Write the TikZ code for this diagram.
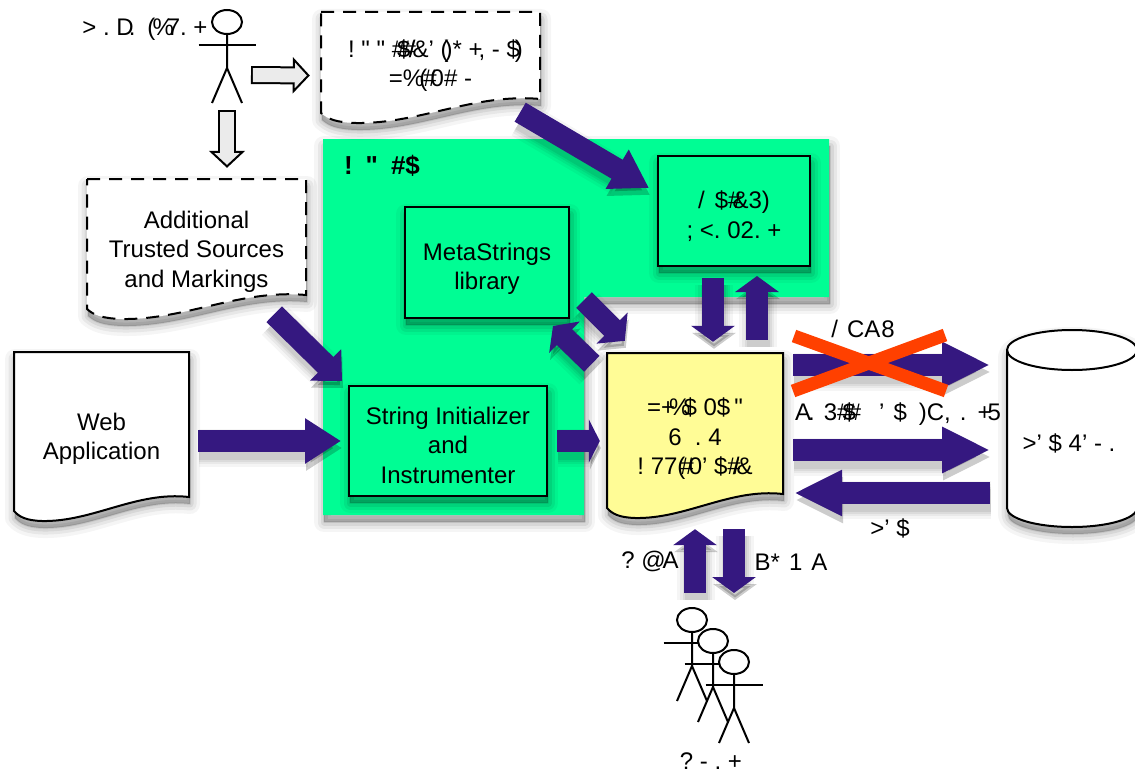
\documentclass[tikz,border=0pt]{standalone}
\usepackage{fontspec}
\setmainfont{Liberation Sans}[Ligatures=TeXOff]
\usetikzlibrary{arrows.meta,calc,shapes.geometric}
\definecolor{seagreen}{RGB}{0,253,148}
\definecolor{flowblue}{RGB}{53,24,128}
\definecolor{noteyellow}{RGB}{255,252,150}
\definecolor{crossred}{RGB}{255,64,0}
\definecolor{hollowgrey}{RGB}{235,235,235}
\newcommand{\bk}[1]{\kern-#1pt\relax}
\newcommand{\dn}[1]{\rule{0pt}{#1pt}}
\tikzset{
  softshade/.style={
    preaction={fill=black,draw=black,opacity=.04,line width=20pt,line join=round,solid,transform canvas={shift={(1pt,-7pt)}}},
    preaction={fill=black,draw=black,opacity=.06,line width=13pt,line join=round,solid,transform canvas={shift={(1pt,-7pt)}}},
    preaction={fill=black,draw=black,opacity=.07,line width=7pt,line join=round,solid,transform canvas={shift={(1pt,-7pt)}}},
    preaction={fill=black,draw=black,opacity=.08,line width=2pt,line join=round,solid,transform canvas={shift={(1pt,-7pt)}}}},
  flowshade/.style={
    preaction={draw=black,opacity=.04,line width=38pt,transform canvas={shift={(1pt,-7pt)}}},
    preaction={draw=black,opacity=.05,line width=32pt,transform canvas={shift={(1pt,-7pt)}}},
    preaction={draw=black,opacity=.06,line width=27pt,transform canvas={shift={(1pt,-7pt)}}},
    preaction={draw=black,opacity=.07,line width=23pt,transform canvas={shift={(1pt,-7pt)}}}},
  flow/.style={flowshade,line width=22pt,draw=flowblue,-{Triangle[width=43pt,length=#1]}},
  flow/.default=36pt,
  hollow/.style={line width=18pt,draw=black,
    -{Triangle[width=36pt,length=17pt,fill=hollowgrey,line width=2pt]},
    postaction={draw=hollowgrey,line width=14pt,-{},shorten >=15pt,shorten <=1.9pt}},
  txt/.style={font=\fontsize{24}{29.5}\selectfont,align=center,inner sep=0pt,execute at begin node={\rule{0pt}{22pt}}},
  stage/.style={softshade,draw=black,line width=2pt,fill=seagreen,txt},
  dashedit/.style={dash pattern=on 13pt off 9pt},
  headshape/.style={ellipse,draw=black,line width=2pt,fill=white,minimum width=30pt,minimum height=24pt,inner sep=0pt},
  limb/.style={draw=black,line width=2pt}
}
% page with the wavy lower edge, then its text node on top
\newcommand{\docnode}[7]{%
  \draw[softshade,draw=black,line width=2pt,#1] (#3,#4) -- (#5,#4) -- (#5,#6)
    .. controls ({#5-.3*(#5-#3)},{#6-6}) and ({#5-.55*(#5-#3)},{#6+25}) .. ({#3+.16*(#5-#3)},{#6+24})
    .. controls ({#3+.07*(#5-#3)},{#6+23.5}) and ({#3+.03*(#5-#3)},{#6+20}) .. (#3,{#6+14}) -- cycle;
  \node[txt,minimum width={(#5-#3)*1pt},minimum height={(#6+20-#4)*1pt}] (#2) at ({(#3+#5)/2},{(#4+#6+20)/2}) {#7};
}
\newcommand{\stickman}[3]{%
  \draw[limb] (#2,#3) -- ++(0,46) -- ++(-15,35);
  \draw[limb] (#2,{#3+46}) -- ++(15,35);
  \draw[limb] ({#2-28.5},{#3+23}) -- ++(57,0);
  \node[headshape] (#1) at (#2,#3) {};
}

\begin{document}
\begin{tikzpicture}[x=1pt,y=-1pt]
\useasboundingbox (0,0) rectangle (1135,776);
% green area
\fill[softshade,fill=seagreen] (323,139) -- (829,139) -- (829,297) -- (584,297) -- (584,515) -- (323,515) -- cycle;
\node[font=\fontsize{26}{29}\selectfont\bfseries,inner sep=0pt] (area) at (382,166) {!\kern13pt"\kern13pt\#\$};
% boxes on it
\node[stage,minimum width=164pt,minimum height=111pt] (metalib) at (487,262.5) {\dn{30}MetaStrings\\library};
\node[stage,minimum width=152pt,minimum height=110pt] (plugin) at (734,211) {\dn{28}/\kern10pt\$\#\bk{9}\&3)\\;\ <.\ 02.\ +};
\node[stage,minimum width=198pt,minimum height=110pt] (init) at (448,441) {\dn{26}String Initializer\\and\\Instrumenter};
% pages
\docnode{fill=white,dashedit}{topdoc}{321}{12}{540}{99}{\kern10pt!\ "\ "\ \#\bk{8}\$\bk{8}\#\bk{7}/\bk{3}\&’\ (\bk{4})*\ +\bk{4},\ -\ \$\bk{5})\\=\%\bk{5}(\bk{4}\#\bk{6}0\#\ -}
\docnode{fill=white,dashedit}{addsrc}{87}{179}{306}{295}{\dn{26}Additional\\Trusted Sources\\and Markings}
\docnode{fill=white}{webapp}{14}{352}{189}{497}{\dn{26}Web\\Application}
\docnode{fill=noteyellow}{sheet}{607}{353}{783}{494}{\dn{28}=+\bk{6}\%\bk{7}\$\ 0\$\kern4pt"\\6\ \ .\ 4\\!\ 77(\bk{5}\#\bk{5}0’\ \$\#\bk{8}/\bk{3}\&}
% database
\draw[softshade,draw=black,line width=2pt,fill=white] (1007,350) -- (1007,508) arc[start angle=180,end angle=360,x radius=65,y radius=-19] -- (1137,350) arc[start angle=0,end angle=180,x radius=65,y radius=-20] -- cycle;
\draw[draw=black,line width=2pt] (1007,350) arc[start angle=180,end angle=360,x radius=65,y radius=-20];
\node[txt] (db) at (1069,441) {>’\ \$\ 4’\ -\ .};
\coordinate (dbport) at (990,0);
% people
\stickman{admin}{227}{22}
\stickman{userA}{692}{620}
\stickman{userB}{713}{641}
\stickman{userC}{734}{662}
\node[txt] (adminlabel) at (145,27) {>\ .\ D\bk{5}.\kern12pt(\bk{3}\%\bk{7}7.\ +};
\node[txt] (userlabel) at (711,758) {?\ -\ .\ +};
% connectors
\draw[hollow] ([shift={(24,53)}]admin.center) -- ([shift={(-11,10)}]topdoc.west);
\draw[hollow] ([shift={(0,88)}]admin.center) -- ([shift={(30.5,-11)}]addsrc.north);
\draw[flow=37pt] ([shift={(-20,-7)}]topdoc.south east) -- ([shift={(-8,-23)}]plugin.west);
\draw[flow=23pt] ([shift={(-32,-1)}]addsrc.south east) -- ([shift={(-6,-4)}]init.north west);
\draw[flow=36pt] ([xshift=9pt]webapp.east |- init.west) -- ([xshift=-7pt]init.west);
\draw[flow=11pt] ([xshift=9pt]init.east) -- ([xshift=-7pt]init.east -| sheet.west);
\draw[flow=18pt] ([shift={(14,-19)}]metalib.south east) -- ([shift={(18,-12)}]sheet.north west);
\draw[flow=16pt] ([shift={(-15,11)}]sheet.north west) -- ([shift={(-17,7)}]metalib.south east);
\draw[flow=16pt] ([xshift=-21pt,yshift=-11pt]plugin.south) -- ([xshift=-21pt,yshift=11pt]plugin.south |- sheet.north);
\draw[flow=16pt] ([shift={(23,-13)}]plugin.south |- sheet.north) -- ([xshift=23pt,yshift=-9pt]plugin.south);
\draw[flow=48pt] ([xshift=10pt]sheet.east |- 0,365) -- (dbport |- 0,365);
\draw[flow=48pt] ([xshift=10pt]sheet.east |- 0,450) -- (dbport |- 0,450);
\draw[flow=48pt] (dbport |- 0,493) -- ([xshift=11pt]sheet.east |- 0,493);
\draw[flow=16pt] ([shift={(3,-14)}]userA.north) -- ([shift={(0,15)}]sheet.south);
\draw[flow=16pt] ([shift={(39,15)}]sheet.south) -- ([shift={(42,-14)}]userA.north);
\draw[line width=13pt,draw=crossred] (794,336) -- (946,391);
\draw[line width=13pt,draw=crossred] (793,391) -- (945,335);
\node[txt] (droplabel) at (863,327) {/\kern9pt C\kern0ptA\kern1pt 8};
\node[txt] (querylabel) at (898,412) {A\bk{3}.\kern9pt 3\#\bk{8}\$\bk{8}\#\kern18pt’\kern9pt\$\kern12pt)C,\kern9pt.\kern11pt+\bk{4}5};
\node[txt] (datalabel) at (890,526) {>’\ \$};
\node[txt] (inputlabel) at (650,559) {?\ @\bk{3}A};
\node[txt] (outputlabel) at (791,559) {B*\kern9pt 1\kern9pt A};
\end{tikzpicture}
\end{document}
